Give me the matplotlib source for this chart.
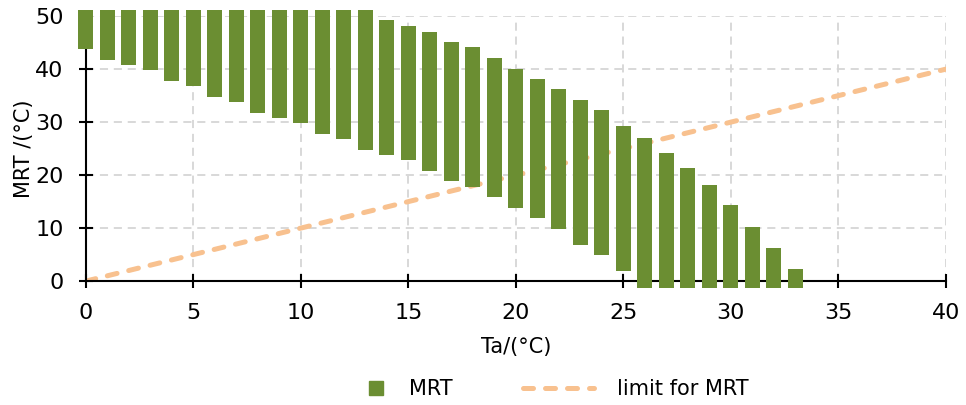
import numpy as np
import matplotlib
matplotlib.use('Agg')
import matplotlib.pyplot as plt

# air temperature steps
ta = list(range(0, 34))

# MRT band: lower / upper edge for each Ta (upper edges above the frame are cut at the top)
mrt_low = [43.8, 41.7, 40.8, 39.8, 37.7, 36.8, 34.7, 33.8, 31.7, 30.8,
           29.8, 27.7, 26.8, 24.7, 23.8, 22.8, 20.8, 18.9, 17.7, 15.8,
           13.8, 11.9, 9.8, 6.8, 4.9, 1.9, -1.3, -1.3, -1.3, -1.3,
           -1.3, -1.3, -1.3, -1.3]
mrt_high = [51.2, 51.2, 51.2, 51.2, 51.2, 51.2, 51.2, 51.2, 51.2, 51.2,
            51.2, 51.2, 51.2, 51.2, 49.2, 48.2, 47.1, 45.2, 44.1, 42.2,
            40.1, 38.2, 36.2, 34.1, 32.2, 29.2, 27.1, 24.1, 21.3, 18.2,
            14.3, 10.3, 6.2, 2.2]

# limit line MRT = Ta
limit_x = [0, 40]
limit_y = [0, 40]

x_ticks = [0, 5, 10, 15, 20, 25, 30, 35, 40]
y_ticks = [0, 10, 20, 30, 40, 50]

green = '#6b8e32'
peach = '#f8c18f'

plt.rcParams['font.family'] = ['DejaVu Sans']
fig = plt.figure(figsize=(9.66, 4.05), dpi=100)
ax = fig.add_axes([0.089, 0.306, 0.890, 0.654])

line, = ax.plot(limit_x, limit_y, color=peach, lw=3.6, dashes=(2.0, 2.4),
                dash_capstyle='round', zorder=2)

heights = np.array(mrt_high) - np.array(mrt_low)
ax.bar(ta, heights, bottom=mrt_low, width=0.7, color=green, zorder=3,
       clip_on=False)

ax.set_xlim(0, 40)
ax.set_ylim(0, 50)
ax.set_xticks(x_ticks)
ax.set_yticks(y_ticks)
ax.grid(True, color='#d6d6d6', lw=1.3, ls=(0, (4.5, 3.2)), zorder=0)
ax.set_axisbelow(True)

for s in ['top', 'right']:
    ax.spines[s].set_visible(False)
for s in ['left', 'bottom']:
    ax.spines[s].set_linewidth(1.5)
    ax.spines[s].set_color('black')

ax.tick_params(direction='inout', length=10, width=1.5, labelsize=16,
               colors='black')
ax.tick_params(axis='x', pad=11)
ax.tick_params(axis='y', pad=11)

ax.set_xlabel('Ta/(°C)', fontsize=15, labelpad=10)
ax.set_ylabel('MRT /(°C)', fontsize=15, labelpad=1)

# legend: square swatch + dashed line, laid out as two pieces
sw = plt.Line2D([], [], marker='s', color=green, ls='none', markersize=9.5)
leg1 = ax.legend([sw], ['MRT'], loc='center', bbox_to_anchor=(0.376, -0.407),
                 frameon=False, fontsize=15, handlelength=1.0,
                 handletextpad=1.05)
ax.add_artist(leg1)
ax.legend([line], ['limit for MRT'], loc='center',
          bbox_to_anchor=(0.6395, -0.407), frameon=False, fontsize=15,
          handlelength=3.4, handletextpad=1.1)

fig.savefig('out.png', dpi=100)
